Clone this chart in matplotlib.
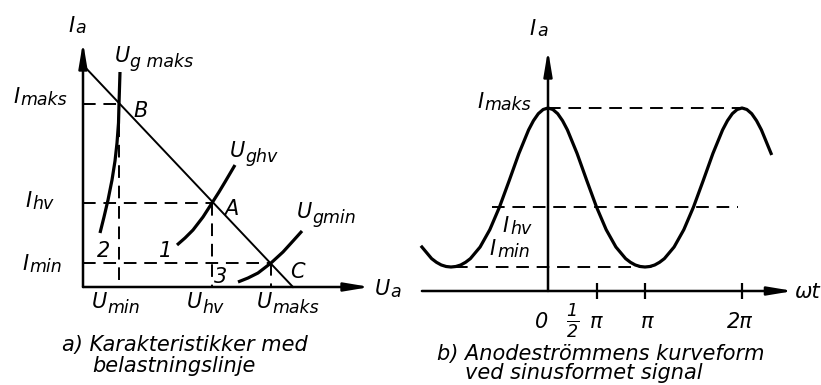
import matplotlib.pyplot as plt

plt.rcParams['font.family'] = ['DejaVu Sans']
plt.rcParams['font.style'] = 'italic'
plt.rcParams['mathtext.fontset'] = 'custom'
plt.rcParams['mathtext.it'] = 'DejaVu Sans:italic'
plt.rcParams['mathtext.rm'] = 'DejaVu Sans:italic'

size = 15
sub_size = 12.5
cap_size = 15

# anode current levels, shared by both panels
i_maks = 18.3
i_hv = 8.4
i_min = 2.4

# a) load line between its axis intercepts
load_u = [0.0, 21.0]
load_i = [22.2, 0.0]

# operating points B, A, C on the load line
point_names = ['B', 'A', 'C']
point_u = [3.6, 12.9, 18.8]
point_i = [i_maks, i_hv, i_min]

# anode characteristics for the three grid voltages
ug_maks_u = [1.7, 2.1, 2.5, 2.9, 3.2, 3.4, 3.55, 3.6, 3.7]
ug_maks_i = [5.4, 7.0, 8.7, 10.7, 12.6, 14.4, 16.4, 18.3, 21.5]
ug_hv_u = [9.4, 10.2, 11.0, 12.0, 12.9, 13.6, 14.2, 15.2]
ug_hv_i = [4.2, 4.9, 5.7, 7.0, 8.4, 9.5, 10.5, 12.2]
ug_min_u = [15.5, 16.5, 17.5, 18.8, 20.0, 21.0, 21.9]
ug_min_i = [0.5, 0.9, 1.4, 2.4, 3.5, 4.6, 5.6]

# b) anode current against wt (wt in units of pi)
wt = [-1.3, -1.2, -1.15, -1.1, -1.05, -1.0, -0.95, -0.9, -0.85, -0.8, -0.7, -0.6, -0.5,
      -0.4, -0.3, -0.2, -0.15, -0.1, -0.05, 0.0, 0.05, 0.1, 0.15, 0.2, 0.3, 0.4, 0.5,
      0.6, 0.7, 0.8, 0.85, 0.9, 0.95, 1.0, 1.05, 1.1, 1.15, 1.2, 1.3, 1.4, 1.5, 1.6,
      1.7, 1.8, 1.85, 1.9, 1.95, 2.0, 2.05, 2.1, 2.15, 2.2, 2.3]
ia = [4.40, 3.24, 2.87, 2.60, 2.45, 2.40, 2.45, 2.60, 2.87, 3.24, 4.40, 6.13, 8.40,
      11.04, 13.75, 16.11, 17.03, 17.73, 18.15, 18.30, 18.15, 17.73, 17.03, 16.11, 13.75,
      11.04, 8.40, 6.13, 4.40, 3.24, 2.87, 2.60, 2.45, 2.40, 2.45, 2.60, 2.87, 3.24,
      4.40, 6.13, 8.40, 11.04, 13.75, 16.11, 17.03, 17.73, 18.15, 18.30, 18.15, 17.73,
      17.03, 16.11, 13.75]
tick_pos = [0.5, 1.0, 2.0]

dash = (0, (6.5, 4))


def axis_arrow(ax, start, end):
    ax.annotate('', xy=end, xytext=start,
                arrowprops=dict(arrowstyle='-|>,head_length=1.5,head_width=0.25',
                                lw=1.8, color='black', shrinkA=0, shrinkB=0,
                                mutation_scale=10))


def symbol(ax, x, y, main, sub, drop=1.3, gap=1.0):
    t = ax.text(x, y, main, fontsize=size, ha='left', va='baseline')
    ax.annotate(sub, xy=(1, 0), xycoords=t, xytext=(gap, -drop),
                textcoords='offset points', fontsize=sub_size,
                ha='left', va='bottom')


fig = plt.figure(figsize=(8.21, 3.85), dpi=100)

# ---- a) characteristics with load line ----
ax1 = fig.add_axes([0, 0, 400 / 821, 1])
ax1.set_xlim(-8.3, 31.7)
ax1.set_ylim(-9.8, 28.7)
ax1.axis('off')

axis_arrow(ax1, (0, 0), (0, 24.5))
axis_arrow(ax1, (0, 0), (28.7, 0))

ax1.plot(load_u, load_i, color='black', lw=1.4)
for u, i in zip(point_u, point_i):
    ax1.plot([0, u], [i, i], color='black', lw=1.4, linestyle=dash)
    ax1.plot([u, u], [i, 0], color='black', lw=1.4, linestyle=dash)

for cu, ci in [(ug_maks_u, ug_maks_i), (ug_hv_u, ug_hv_i), (ug_min_u, ug_min_i)]:
    ax1.plot(cu, ci, color='black', lw=2.3, solid_capstyle='butt')

ax1.text(5.8, 17.6, 'B', fontsize=size, ha='center', va='center')
ax1.text(14.8, 7.8, 'A', fontsize=size, ha='center', va='center')
ax1.text(21.4, 1.5, 'C', fontsize=size, ha='center', va='center')
ax1.text(2.1, 3.6, '2', fontsize=size, ha='center', va='center')
ax1.text(8.3, 3.6, '1', fontsize=size, ha='center', va='center')
ax1.text(13.8, 1.0, '3', fontsize=size, ha='center', va='center')

symbol(ax1, -1.5, 25.5, 'I', 'a', drop=0.5)
symbol(ax1, 3.2, 22.5, 'U', 'g maks', drop=3.8, gap=0)
symbol(ax1, 14.7, 13.0, 'U', 'ghv', drop=3.8, gap=0)
symbol(ax1, 21.4, 6.9, 'U', 'gmin', drop=3.8, gap=0)
symbol(ax1, -7.0, 18.4, 'I', 'maks')
symbol(ax1, -5.8, 8.0, 'I', 'hv')
symbol(ax1, -6.1, 1.7, 'I', 'min')
symbol(ax1, 0.9, -2.1, 'U', 'min', drop=3.8, gap=0)
symbol(ax1, 10.4, -2.1, 'U', 'hv', drop=3.8, gap=0)
symbol(ax1, 17.4, -2.1, 'U', 'maks', drop=3.8, gap=0)
symbol(ax1, 29.2, -0.8, 'U', 'a', gap=0)

ax1.text(-2.1, -6.4, 'a) Karakteristikker med', fontsize=cap_size, ha='left', va='baseline')
ax1.text(0.9, -8.5, 'belastningslinje', fontsize=cap_size, ha='left', va='baseline')

# ---- b) anode current waveform ----
ax2 = fig.add_axes([400 / 821, 0, 421 / 821, 1])
ax2.set_xlim(-148 / 97, 273 / 97)
ax2.set_ylim(-9.4, 29.1)
ax2.axis('off')

axis_arrow(ax2, (0, 0), (0, 24.1))
axis_arrow(ax2, (-1.3, 0), (2.53, 0))
ax2.vlines(tick_pos, -0.8, 0.8, color='black', lw=1.6)

ax2.plot([0, 2.08], [i_maks, i_maks], color='black', lw=1.4, linestyle=dash)
ax2.plot([-0.58, 1.96], [i_hv, i_hv], color='black', lw=1.4, linestyle=dash)
ax2.plot([-0.96, 1.08], [i_min, i_min], color='black', lw=1.4, linestyle=dash)

ax2.plot(wt, ia, color='black', lw=2.3, solid_joinstyle='round')

symbol(ax2, -0.19, 25.6, 'I', 'a', drop=0.5)
symbol(ax2, -0.73, 18.3, 'I', 'maks')
symbol(ax2, -0.47, 5.9, 'I', 'hv')
symbol(ax2, -0.60, 3.6, 'I', 'min')
ax2.text(2.54, -0.7, 'ωt', fontsize=size, ha='left', va='baseline')

ax2.text(-0.07, -3.1, '0', fontsize=size, ha='center', va='center')
ax2.text(0.25, -3.0, r'$\frac{1}{2}$', fontsize=18, ha='center', va='center')
ax2.text(0.50, -3.1, 'π', fontsize=size, ha='center', va='center')
ax2.text(1.02, -3.1, 'π', fontsize=size, ha='center', va='center')
ax2.text(1.98, -3.1, '2π', fontsize=size, ha='center', va='center')

ax2.text(-1.14, -6.9, 'b) Anodeströmmens kurveform', fontsize=cap_size, ha='left', va='baseline')
ax2.text(-0.86, -8.8, 'ved sinusformet signal', fontsize=cap_size, ha='left', va='baseline')

plt.savefig('out.png', dpi=100)
